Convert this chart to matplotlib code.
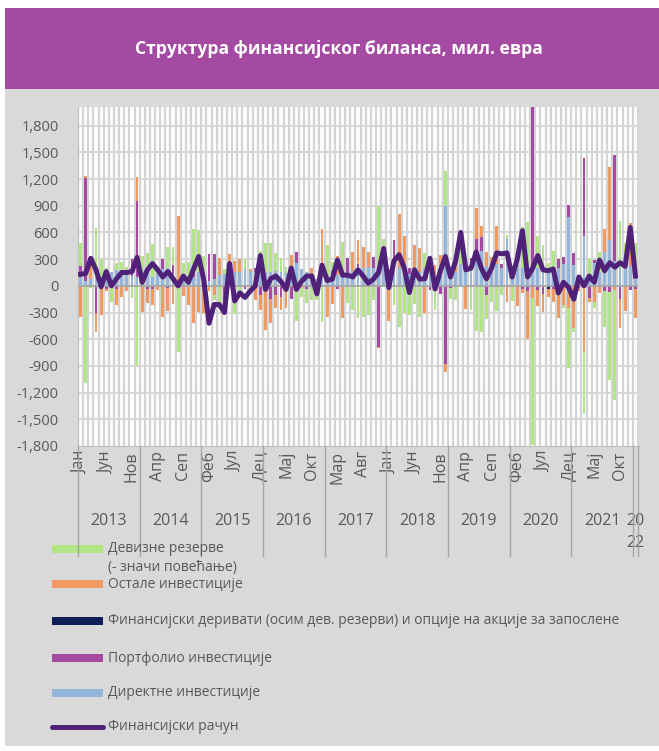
import numpy as np
import matplotlib
matplotlib.use('Agg')
import matplotlib.pyplot as plt
from matplotlib.patches import Rectangle
from matplotlib.lines import Line2D
from matplotlib.ticker import FuncFormatter
import matplotlib.transforms as mtransforms

plt.rcParams['font.family'] = ['Open Sans', 'DejaVu Sans']

# monthly data, Jan 2013 - Jan 2022 (mil. EUR)
direct = [100, 50, 80, 100, 100, 140, 150, 180, 180, 170, 110, 100,
          150, 140, 100, 130, 190, 200, 130, 50, 120, 100, 100, 150,
          120, 60, 80, 120, 130, 130, 150, 160, 190, 170, 160, 170,
          150, 160, 170, 160, 140, 170, 260, 190, 150, 100, 80, 100,
          120, 130, 120, 140, 130, 170, 200, 200, 210, 200, 200, 300,
          150, 200, 200, 180, 130, 130, 150, 200, 150, 120, 160, 900,
          100, 150, 250, 200, 230, 394, 394, 220, 240, 240, 200, 525,
          150, 230, 200, 225, 150, 206, 188, 170, 180, 206, 244, 769,
          236, 80, 562, 120, 262, 150, 375, 514, 281, 200, 300, 225,
          94]
portfolio = [125, 1157, 0, -300, -10, -40, 0, -30, 0, 0, 190, 856,
             0, -40, -40, 0, 110, -20, 100, 0, 0, 0, 40, 0,
             0, 296, 276, 0, -170, 0, 0, 0, -40, 0, 40, -100,
             0, -150, -100, -130, 0, -150, 115, 0, -30, 0, 0, 0,
             0, 40, -30, 0, 181, 0, 40, 0, 0, 126, -686, 0,
             40, 314, 0, 0, 70, 0, 0, 0, -45, 0, -94, -880,
             -20, 0, 0, 0, 80, 131, 150, -105, 0, 0, 50, 0,
             0, 0, -30, -56, 1860, -45, -94, 0, -30, 94, 75, 142,
             128, -20, 874, -142, 27, 0, -56, -64, 1193, -150, 0, -45,
             -30]
derivatives = [0] * 88 + [-10, 0, 0, -37, 0, -20] + [0] * 15
other = [-355, 30, 150, -217, -320, -20, -20, -190, -120, -60, 0, 270,
         -290, -150, -180, -50, -350, -260, -200, 740, -110, -210, -420, -290,
         -300, -60, -100, 190, 0, 230, 130, 140, 0, 20, -160, -170,
         -500, -270, -145, -145, -245, 175, 0, -20, 0, 100, -40, 540,
         -350, -200, 210, -365, 0, 205, 278, 242, 165, 0, -14, 0,
         -394, 0, 606, 382, 0, 327, 280, -300, 0, 110, 185, -84,
         0, 130, 0, -260, 0, 350, 131, 160, 80, 427, 0, -180,
         0, -232, -50, -544, -130, -180, -196, -83, -150, -344, -214, -251,
         -469, -40, -739, -45, -187, -82, 262, 817, -50, -320, -280, 480,
         -334]
reserves = [262, -1090, -20, 545, 207, 60, -160, 82, 90, 40, -140, -900,
            180, 230, 370, 95, 0, 240, 210, -740, 140, 170, 497, 480,
            217, 0, -60, -250, 60, 0, -320, -100, 110, 0, 0, 224,
            326, 316, 194, 151, 74, 0, -395, -100, -160, -160, -120, -410,
            340, 100, 0, 355, -190, -270, -356, -345, -326, -160, 700, 225,
            0, -210, -461, -307, -330, -200, -345, 167, 190, -270, 0, 390,
            -130, -160, 160, 100, -270, -510, -514, -270, -180, -280, -100, 45,
            -170, 60, 456, 487, -1650, 356, 269, 92, 206, 0, -30, -668,
            -45, 30, -705, 191, -64, 225, -405, -993, -1232, 531, 180, 0,
            393]
fin_account = [130, 140, 310, 180, -10, 160, 0, 80, 150, 150, 160, 320,
               40, 180, 250, 180, 100, 160, 80, 0, 110, 40, 190, 330,
               60, -420, -210, -210, -300, 250, -170, -80, -130, -60, 0, 340,
               -40, 80, 110, 50, -40, 200, -40, 50, 110, 110, -90, 232,
               60, 75, 290, 120, 120, 100, 180, 110, 30, 75, 150, 420,
               -20, 280, 350, 200, -75, 180, 75, 80, 310, -35, 160, 330,
               100, 280, 600, 180, 200, 380, 200, 80, 200, 370, 360, 370,
               100, 300, 620, 100, 200, 340, 180, 170, 190, -80, 40, -20,
               -150, 100, 0, 110, 40, 290, 170, 260, 210, 260, 220, 656,
               110]

years = ['2013', '2014', '2015', '2016', '2017', '2018', '2019', '2020', '2021', '20\n22']
month_labels = ['Јан', 'Јун', 'Нов', 'Апр', 'Сеп', 'Феб', 'Јул', 'Дец', 'Мај', 'Окт', 'Мар',
                'Авг', 'Јан', 'Јун', 'Нов', 'Апр', 'Сеп', 'Феб', 'Јул', 'Дец', 'Мај', 'Окт']

series = [
    ('Директне инвестиције', direct, '#95b6dc'),
    ('Портфолио инвестиције', portfolio, '#a54aa3'),
    ('Финансијски деривати (осим дев. резерви) и опције на акције за запослене', derivatives, '#0f2057'),
    ('Остале инвестиције', other, '#f19b62'),
    ('Девизне резерве', reserves, '#b2e584'),
]
line_color = '#4f2178'
text_color = '#595959'

W, H = 659, 751
fig = plt.figure(figsize=(W / 100, H / 100), dpi=100)
fig.patch.set_facecolor('white')
fig.patches.append(Rectangle((5 / W, 5 / H), 1, (H - 5 - 88) / H, transform=fig.transFigure,
                             facecolor='#d9d9d9', edgecolor='none', zorder=-10))
fig.patches.append(Rectangle((5 / W, 1 - 89 / H), 1, 81 / H, transform=fig.transFigure,
                             facecolor='#a54aa3', edgecolor='none', zorder=-9))
fig.text(0.515, 1 - 49 / H, 'Структура финансијског биланса, мил. евра', color='white',
         fontsize=12.6, fontweight='bold', ha='center', va='center')

ax = fig.add_axes([78 / W, 1 - 446 / H, 560 / W, 339 / H])
ax.set_facecolor('white')

n = len(direct)
x = np.arange(n)
pos_bottom = np.zeros(n)
neg_bottom = np.zeros(n)
for name, vals, col in series:
    v = np.array(vals, dtype=float)
    pos = np.where(v > 0, v, 0)
    neg = np.where(v < 0, v, 0)
    ax.bar(x, pos, width=0.55, bottom=pos_bottom, color=col, zorder=3)
    ax.bar(x, neg, width=0.55, bottom=neg_bottom, color=col, zorder=3)
    pos_bottom += pos
    neg_bottom += neg

ax.plot(x, fin_account, color=line_color, lw=3.6, zorder=5, solid_joinstyle='round')

ax.set_xlim(-0.5, n - 0.5)
ax.set_ylim(-1800, 2010)
ax.set_yticks(np.arange(-1800, 1801, 300))
ax.yaxis.set_major_formatter(FuncFormatter(lambda v, p: f'{v:,.0f}'))
ax.tick_params(axis='y', length=0, labelsize=10.5, labelcolor=text_color, pad=14)
for yv in np.arange(-1500, 1801, 300):
    if yv != 0:
        ax.axhline(yv, color='#d9d9d9', lw=1.5, zorder=1)
for xv in np.arange(-0.5, n, 1):
    ax.axvline(xv, color='#d4d4d4', lw=1.6, zorder=1)
ax.axhline(0, color='#a6a6a6', lw=1.3, zorder=4)

ax.set_xticks([])
for s in ['top', 'right']:
    ax.spines[s].set_visible(False)
ax.spines['left'].set_color('#bfbfbf')
ax.spines['bottom'].set_color('#bfbfbf')

# month labels
tr = mtransforms.blended_transform_factory(ax.transData, fig.transFigure)
for k, lab in enumerate(month_labels):
    ax.text(k * 5, 1 - 451 / H, lab, transform=tr, rotation=90, ha='center', va='top',
            fontsize=11.5, color=text_color)

# year labels and separators
for k, yr in enumerate(years):
    if k < 9:
        ax.text(k * 12 + 5.5, 1 - 521 / H, yr, transform=tr, ha='center', va='center',
                fontsize=11.5, color=text_color)
    else:
        ax.text(108, 1 - 521 / H, '20', transform=tr, ha='center', va='center',
                fontsize=11.5, color=text_color)
        ax.text(108, 1 - 543 / H, '22', transform=tr, ha='center', va='center',
                fontsize=11.5, color=text_color)
for b in list(np.arange(-0.5, n, 12)) + [n - 0.5]:
    fig.add_artist(Line2D([b, b], [1 - 446 / H, 1 - 556 / H], transform=tr,
                          color='#a6a6a6', lw=1))

# legend
leg_items = [
    ('Девизне резерве', '#b2e584', 549, 'bar'),
    ('Остале инвестиције', '#f19b62', 584, 'bar'),
    ('Финансијски деривати (осим дев. резерви) и опције на акције за запослене', '#0f2057', 621, 'bar'),
    ('Портфолио инвестиције', '#a54aa3', 658, 'bar'),
    ('Директне инвестиције', '#95b6dc', 693, 'bar'),
    ('Финансијски рачун', line_color, 727, 'line'),
]
for lab, col, yp, kind in leg_items:
    yf = 1 - yp / H
    if kind == 'bar':
        fig.patches.append(Rectangle((52 / W, yf - 4 / H), 51 / W, 8 / H, transform=fig.transFigure,
                                     facecolor=col, edgecolor='none'))
    else:
        fig.add_artist(Line2D([52 / W, 103 / W], [yf, yf], transform=fig.transFigure,
                              color=col, lw=3.6, solid_capstyle='round'))
    fig.text(108 / W, yf, lab, fontsize=10, color=text_color, ha='left', va='center')
fig.text(108 / W, 1 - 567 / H, '(- значи повећање)', fontsize=10, color=text_color,
         ha='left', va='center')

fig.savefig('out.png', dpi=100)
